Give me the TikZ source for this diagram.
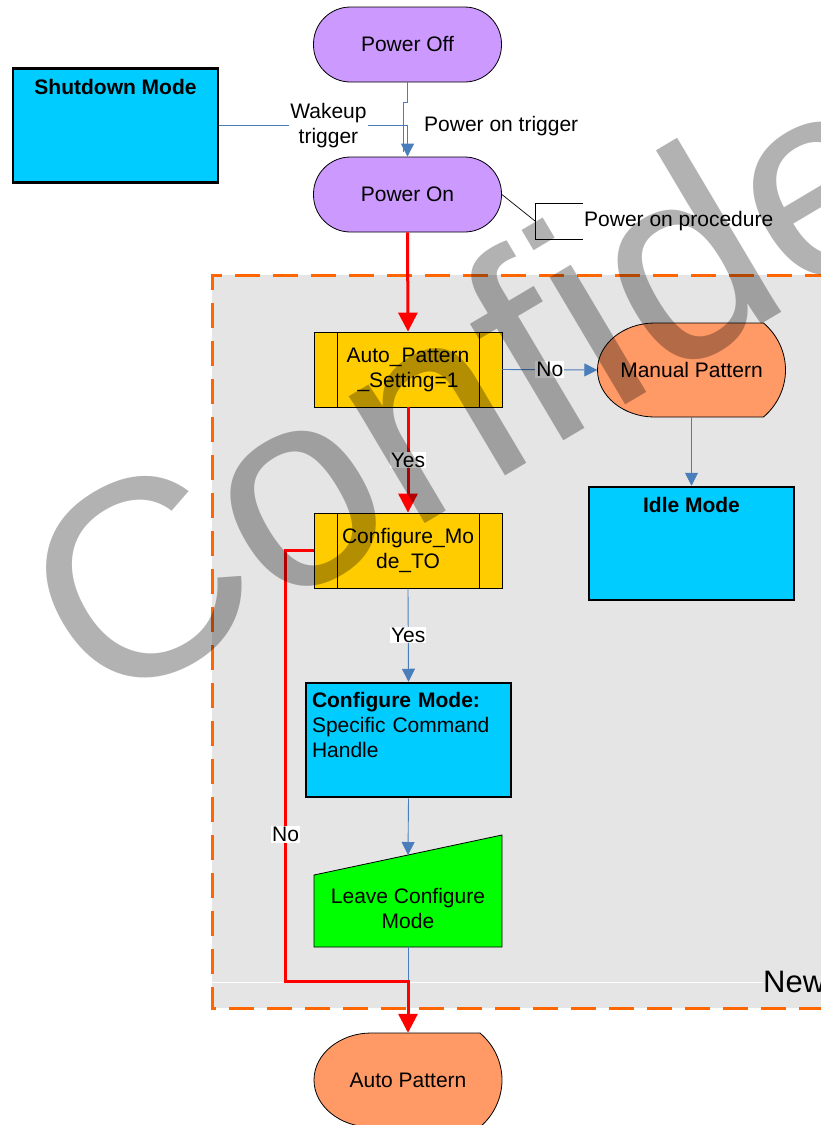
\documentclass[tikz,border=0pt]{standalone}
\usepackage{fontspec}
\setmainfont{Liberation Sans}
\usetikzlibrary{arrows.meta,calc}

\definecolor{termc}{HTML}{CC99FF}
\definecolor{modec}{HTML}{00CCFF}
\definecolor{decc}{HTML}{FFCC00}
\definecolor{dispc}{HTML}{FF9966}
\definecolor{leavec}{HTML}{00FF00}
\definecolor{regionc}{HTML}{E5E5E5}
\definecolor{dashc}{HTML}{FF6600}
\definecolor{linkc}{HTML}{4A7EBB}

% display shape, drawn round a centre point
\newcommand{\dispshape}[1]{%
  \filldraw[fill=dispc, line width=0.8pt, shift={#1}]
    (-37,-47) -- (72,-47) .. controls (86,-35) and (94,-18) .. (94,0)
    .. controls (94,18) and (86,35) .. (72,47) -- (-37,47)
    .. controls (-68,47) and (-94,26) .. (-94,0)
    .. controls (-94,-26) and (-68,-47) .. (-37,-47) -- cycle;}

\begin{document}
\begin{tikzpicture}[
  x=1pt, y=-1pt,
  every node/.style={font=\fontsize{21}{25}\selectfont},
  term/.style={
    draw,
    fill=termc,
    line width=0.8pt,
    rounded corners=37pt,
    align=center,
    minimum width=188pt,
    minimum height=75pt
  },
  mode/.style={
    draw,
    fill=modec,
    line width=2.5pt,
    align=center,
    minimum width=205pt,
    minimum height=114pt
  },
  decide/.style={
    draw,
    fill=decc,
    line width=0.8pt,
    align=center,
    minimum width=188pt,
    minimum height=75pt,
    path picture={
      \draw[line width=0.8pt] ([xshift=23pt]path picture bounding box.north west)
        -- ([xshift=23pt]path picture bounding box.south west);
      \draw[line width=0.8pt] ([xshift=-23pt]path picture bounding box.north east)
        -- ([xshift=-23pt]path picture bounding box.south east);
    }
  },
  display/.style={
    align=center,
    inner sep=0pt,
    minimum width=188pt,
    minimum height=94pt
  },
  lbl/.style={fill=white, inner sep=1pt, align=center},
  link/.style={draw=linkc, line width=0.9pt},
  flow/.style={link, -{Triangle[width=13pt,length=13pt]}},
  hot/.style={draw=red, line width=3pt, -{Triangle[width=19pt,length=19pt]}},
  wmark/.style={
    font=\fontsize{280}{280}\selectfont,
    text=black,
    text opacity=0.3,
    rotate=30.7,
    anchor=base west,
    inner sep=0pt
  }
]
\useasboundingbox (0,0) rectangle (821,1125);
\clip (0,0) rectangle (821,1125);

% grey area of the new flow
\fill[regionc] (212,275) rectangle (830,1008);
\draw[white, line width=1pt] (212,982) -- (763,982);
\draw[dashc, line width=3pt, dash pattern=on 25pt off 13pt] (830,275) -- (212,275) -- (212,1008) -- (830,1008);
\node[anchor=base west, inner sep=0pt, font=\fontsize{31}{36}\selectfont] (newlbl) at (763,992) {New};

\node[term] (poff) at (407.5,44.5) {Power Off};
\node[mode] (shut) at (115.5,125.5) {\textbf{Shutdown Mode}\\\strut\\\strut\\[-6pt]\strut};
\node[term] (pon) at (407.5,194.5) {Power On};
\node[anchor=west, inner sep=0pt] (trig) at (424,126) {Power on trigger};
\node[anchor=west, inner sep=0pt] (proc) at (584,221) {Power on procedure};
\node[decide] (autop) at (408,369.5) {Auto\_Pattern\\\_Setting=1};
\dispshape{(691.5,370)}
\node[display] (manual) at (691.5,370) {Manual Pattern};
\node[mode, minimum height=113pt] (idle) at (691.5,543.5) {\textbf{Idle Mode}\\\strut\\\strut\\[-6pt]\strut};
\node[decide] (cfgto) at (408,550.5) {Configure\_Mo\\de\_TO};
\node[mode, text width=193pt, inner xsep=6pt, align=left] (cfgmode) at (408.5,740) {\textbf{Configure Mode:}\\Specific Command\\Handle\\[-3pt]\strut};
\filldraw[fill=leavec, line width=0.8pt] (314,875) -- coordinate (leavetop) (502,835) -- (502,947) -- (314,947) -- cycle;
\node[align=center, minimum width=188pt, minimum height=78pt] (leave) at (408,908) {Leave Configure\\Mode};
\dispshape{(408,1080)}
\node[display] (autopat) at (408,1080) {Auto Pattern};

% power on procedure note
\coordinate (brk) at (535,221);
\draw[line width=0.7pt] (pon.east) -- (brk);
\draw[line width=0.7pt] (583,203) -- (535,203) -- (535,239) -- (583,239);

\draw[link] (poff.south) -- ++(0,20) -- ++(-4,0) -- ($(pon.north)+(-4,-5)$);
\draw[flow] (shut.east) -| node[lbl, pos=.29] (wake) {Wakeup\\trigger} (pon.north);
\draw[hot] (pon.south) -- (autop.north);
\draw[hot] (autop.south) -- node[lbl] (yes1) {Yes} (cfgto.north);
\draw[flow] (autop.east) -- node[lbl] (no1) {No} (manual.west);
\draw[flow] (manual.south) -- (idle.north);
\draw[flow] (cfgto.south) -- node[lbl] (yes2) {Yes} (cfgmode.north);
\draw[flow] (cfgmode.south) -- (leavetop);
\coordinate (merge) at (408,981);
\draw[link] (leave.south) -- (merge);
\draw[hot] (cfgto.west) -- ++(-28,0) |- node[lbl, pos=.33] (no2) {No} (merge) -- (autopat.north);

% watermark
\node[wmark] (conf) at (101,716) {Confide};
\end{tikzpicture}
\end{document}
